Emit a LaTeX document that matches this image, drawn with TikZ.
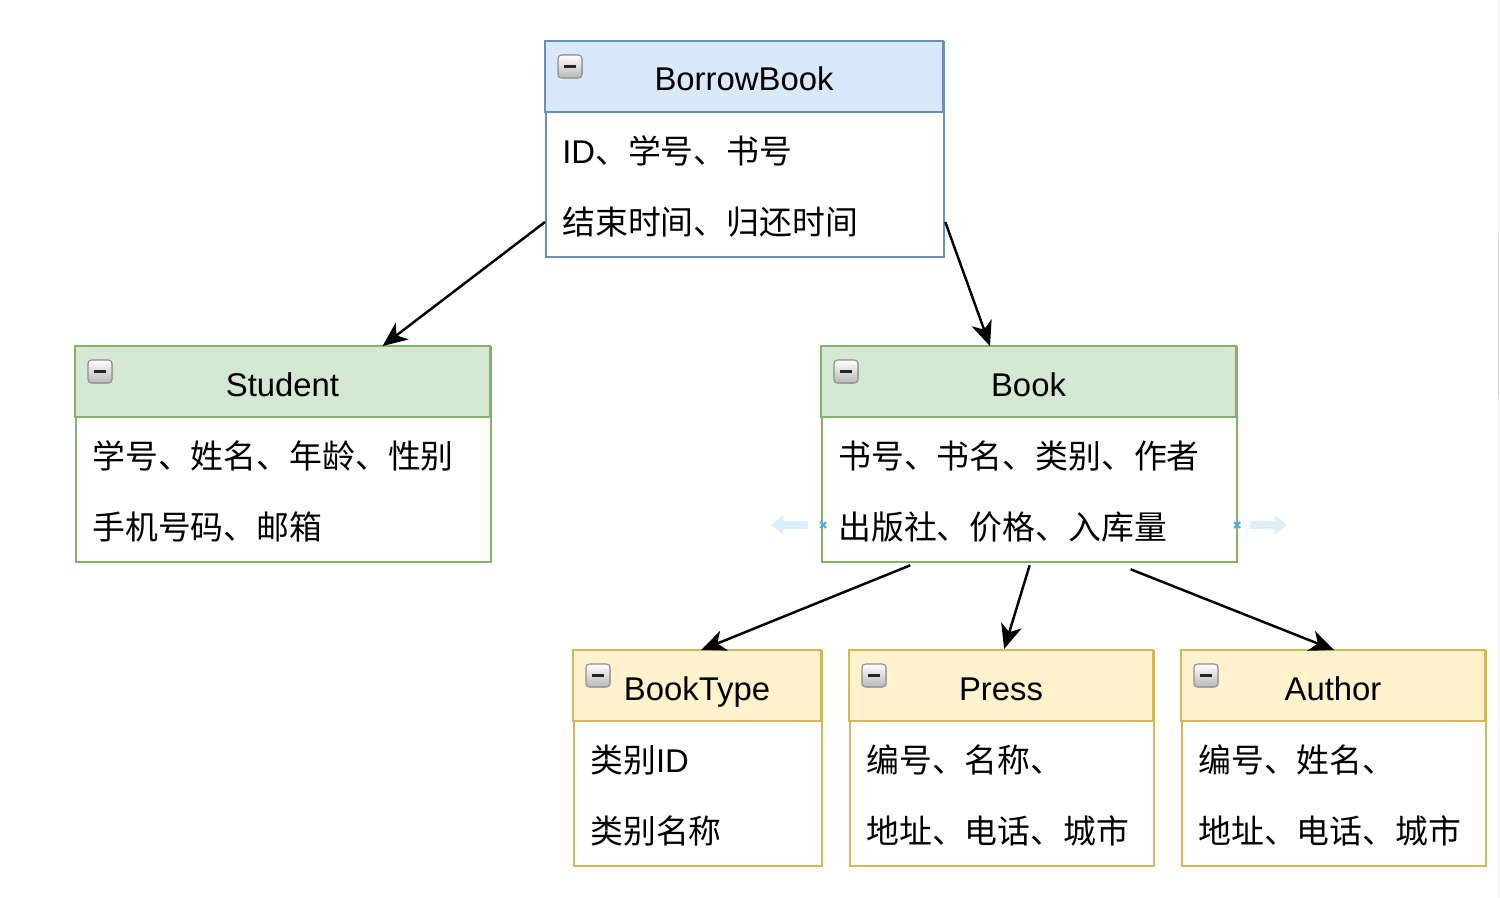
\documentclass[tikz,border=0pt]{standalone}
\usepackage{fontspec}
\setmainfont{Liberation Sans}
\newfontfamily\cjk{Noto Sans CJK SC}
\usetikzlibrary{calc}
\usetikzlibrary{arrows.meta}

\definecolor{blueFill}{HTML}{DAE8FC}
\definecolor{blueLine}{HTML}{6C8EBF}
\definecolor{greenFill}{HTML}{D5E8D4}
\definecolor{greenLine}{HTML}{82B366}
\definecolor{yellowFill}{HTML}{FFF2CC}
\definecolor{yellowLine}{HTML}{D6B656}
\definecolor{hintBlue}{HTML}{DCEFF8}
\definecolor{hintCross}{HTML}{4FAEE3}

\tikzset{
	link/.style={line width=1.4pt,-{Stealth[length=14pt,width=12pt,inset=4pt]}},
	titleText/.style={anchor=base,inner sep=0pt,font=\fontsize{18.7}{22}\selectfont},
	rowText/.style={anchor=west,inner sep=0pt,font=\fontsize{18.7}{22}\selectfont},
	hintArrow/.style={line width=5pt,hintBlue,-{Triangle[length=7pt,width=11pt]}},
	hintMark/.style={line width=1.2pt,hintCross}
}

\begin{document}
\begin{tikzpicture}[x=0.02cm,y=-0.02cm]
	\useasboundingbox (0,0) rectangle (1500,898);
	\fill[white] (0,0) rectangle (1500,898);
	\draw[line width=0.6pt,black!5] (1498.5,0) -- (1498.5,898);
	\draw[line width=0.8pt,black!18] (1498.5,237) -- (1498.5,397);

	% #1 name, #2 left, #3 top, #4 width, #5 fill, #6 line, #7 title, #8 row 1, #9 row 2
	\newcommand\drawTable[9]{
		\node[draw=#6,line width=1.3pt,fill=white,inner sep=0pt,minimum width=#4*0.02cm,minimum height=215*0.02cm,anchor=north west] (#1) at (#2,#3) {};
		\filldraw[fill=#5,draw=#6,line width=1.3pt] (#2,#3) rectangle (#2+#4,#3+71);
		\filldraw[rounded corners=2pt,draw=black!45,top color=white,bottom color=black!28,line width=0.6pt] (#2+13,#3+14) rectangle (#2+37,#3+37);
		\draw[line width=1.8pt,black!85] (#2+19,#3+25.5) -- (#2+31,#3+25.5);
		\node[titleText] (#1-head) at (#2+#4/2,#3+50) {#7};
		\node[rowText] (#1-r1) at (#2+17,#3+110) {#8};
		\node[rowText] (#1-r2) at (#2+17,#3+181) {#9};
	}

	\drawTable{borrow}{545}{41}{398}{blueFill}{blueLine}{BorrowBook}{ID{\cjk 、学号、书号}}{\cjk 结束时间、归还时间}
	\drawTable{student}{75}{346}{415}{greenFill}{greenLine}{Student}{\cjk 学号、姓名、年龄、性别}{\cjk 手机号码、邮箱}
	\drawTable{book}{821}{346}{415}{greenFill}{greenLine}{Book}{\cjk 书号、书名、类别、作者}{\cjk 出版社、价格、入库量}
	\drawTable{booktype}{573}{650}{248}{yellowFill}{yellowLine}{BookType}{{\cjk 类别}ID}{\cjk 类别名称}
	\drawTable{press}{849}{650}{304}{yellowFill}{yellowLine}{Press}{\cjk 编号、名称、}{\cjk 地址、电话、城市}
	\drawTable{author}{1181}{650}{304}{yellowFill}{yellowLine}{Author}{\cjk 编号、姓名、}{\cjk 地址、电话、城市}

	\coordinate (hintL) at (808,525);
	\coordinate (hintR) at (1250,525);
	\coordinate (crossL) at (823,525);
	\coordinate (crossR) at (1237,525);
	\draw[hintArrow] (hintL) -- ++(-37,0);
	\draw[hintArrow] (hintR) -- ++(37,0);
	\foreach \c in {crossL,crossR}
	{
		\draw[hintMark] ($(\c)+(-3,-3)$) -- ($(\c)+(3,3)$);
		\draw[hintMark] ($(\c)+(-3,3)$) -- ($(\c)+(3,-3)$);
	}

	\draw[link] (borrow.west |- borrow-r2) -- ($(student.north west)!0.737!(student.north east)$);
	\draw[link] (borrow.east |- borrow-r2) -- ($(book.north west)!0.405!(book.north east)$);
	\draw[link] ($(book.south west)!0.214!(book.south east)+(0,2)$) -- ($(booktype.north)+(3,0)$);
	\draw[link] ($(book.south)+(0,2)$) -- ($(press.north)+(2,-1)$);
	\draw[link] ($(book.south west)!0.742!(book.south east)+(0,6)$) -- (author.north);
\end{tikzpicture}
\end{document}
